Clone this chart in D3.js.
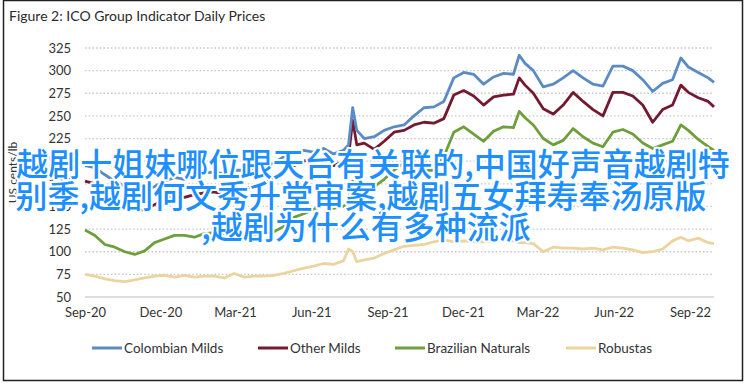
<!DOCTYPE html>
<html>
<head>
<meta charset="utf-8">
<script src="https://cdn.jsdelivr.net/npm/d3@7"></script>
<style>
  body { margin: 0; background: #ffffff; }
  svg { display: block; }
</style>
</head>
<body>
<script>
const width = 748;
const height = 387;
const plot = {left: 85, right: 714, top: 48, bottom: 297};

// dates shared by all series
const dates = [
  "2020-09-01","2020-09-13","2020-09-25","2020-10-07","2020-10-19","2020-10-31",
  "2020-11-12","2020-11-24","2020-12-06","2020-12-18","2020-12-30","2021-01-11",
  "2021-01-23","2021-02-04","2021-02-16","2021-02-28","2021-03-12","2021-03-24",
  "2021-04-05","2021-04-17","2021-04-29","2021-05-11","2021-05-23","2021-06-04",
  "2021-06-16","2021-06-28","2021-07-10","2021-07-16","2021-07-21","2021-07-26",
  "2021-08-04","2021-08-16","2021-08-28","2021-09-09","2021-09-21","2021-10-03",
  "2021-10-15","2021-10-27","2021-11-08","2021-11-20","2021-12-02","2021-12-14",
  "2021-12-26","2022-01-07","2022-01-19","2022-01-31","2022-02-07","2022-02-14",
  "2022-02-24","2022-03-08","2022-03-20","2022-04-01","2022-04-13","2022-04-25",
  "2022-05-07","2022-05-19","2022-05-31","2022-06-12","2022-06-24","2022-07-06",
  "2022-07-18","2022-07-30","2022-08-11","2022-08-21","2022-08-30","2022-09-11",
  "2022-09-23","2022-09-30"
];

const colombianMilds = [
  195,193,185,178,172,168, 167,172,178,182,180,184,
  187,188,186,190,190,192, 194,198,205,208,212,210,
  214,208,212,218,259,234, 225,227,234,238,240,250,
  259,260,266,292,298,296, 285,293,297,296,317,308,
  300,282,285,292,300,292, 285,283,305,305,300,290,
  277,286,290,314,304,298, 292,287
];
const otherMilds = [
  178,175,165,158,150,147, 146,152,158,162,160,163,
  165,166,163,168,170,172, 175,182,190,195,200,205,
  200,195,200,205,245,218, 220,213,222,232,234,240,
  243,242,247,273,278,272, 262,271,273,274,292,284,
  275,258,252,262,276,266, 257,250,276,276,272,262,
  243,257,262,284,276,270, 266,260
];
const brazilianNaturals = [
  124,118,108,105,100,97, 101,110,114,118,118,116,
  120,121,120,123,121,118, 120,122,128,138,142,147,
  152,148,150,155,178,170, 165,172,180,190,198,196,
  190,190,205,232,238,230, 222,233,238,237,255,248,
  240,225,218,223,236,227, 220,216,232,235,230,220,
  214,218,222,240,234,224, 216,212
];
const robustas = [
  75,73,70,68,67,69, 71,73,74,72,74,72,
  73,73,71,76,72,73, 73,74,76,79,82,84,
  87,86,90,103,100,89, 91,93,98,102,106,107,
  108,111,113,111,112,111, 111,112,113,112,110,110,
  109,100,105,104,104,103, 104,102,105,104,102,99,
  100,103,112,116,112,115, 110,109
];

const seriesNames = ["Colombian Milds", "Other Milds", "Brazilian Naturals", "Robustas"];
const seriesValues = [colombianMilds, otherMilds, brazilianNaturals, robustas];
const colors = ["#5b8bc5", "#741a30", "#6f9f3c", "#ebd49f"];
const yTicks = [50, 75, 100, 125, 150, 175, 200, 225, 250, 275, 300, 325];
const xTicks = ["2020-09-01","2020-12-01","2021-03-01","2021-06-01","2021-09-01",
                "2021-12-01","2022-03-01","2022-06-01","2022-09-01"];

const overlayLines = [
  "越剧十姐妹哪位跟天台有关联的,中国好声音越剧特",
  "别季,越剧何文秀升堂审案,越剧五女拜寿奉汤原版",
  ",越剧为什么有多种流派"
];
const overlayCenters = [373, 361, 366];

const parse = d3.timeParse("%Y-%m-%d");

const svg = d3.select("body").append("svg")
    .attr("width", width)
    .attr("height", height);

// frame
svg.append("rect")
    .attr("x", 3.5).attr("y", 0.5)
    .attr("width", 739).attr("height", 380)
    .attr("fill", "#ffffff")
    .attr("stroke", "#222")
    .attr("stroke-width", 1.5);

svg.append("text")
    .attr("x", 9).attr("y", 21)
    .attr("font-family", "Lato, sans-serif")
    .attr("font-size", 14)
    .attr("fill", "#2b2b2b")
    .text("Figure 2: ICO Group Indicator Daily Prices");

const x = d3.scaleTime()
    .domain([parse(dates[0]), parse(dates[dates.length - 1])])
    .range([plot.left, plot.right]);

const y = d3.scaleLinear()
    .domain([50, 325])
    .range([plot.bottom, plot.top]);

// gridlines
svg.append("g")
  .selectAll("line")
  .data(yTicks)
  .join("line")
    .attr("x1", plot.left).attr("x2", plot.right)
    .attr("y1", d => y(d)).attr("y2", d => y(d))
    .attr("stroke", d => d === 50 ? "#d4d4d4" : "#c6c6c6")
    .attr("stroke-width", d => d === 50 ? 1.5 : 1.3)
    .attr("stroke-dasharray", d => d === 50 ? null : "1.5,2.2");

// y axis labels
const yAxis = svg.append("g")
    .attr("transform", "translate(" + (plot.left - 14) + ",0)")
    .call(d3.axisLeft(y).tickValues(yTicks).tickSize(0).tickPadding(0));
yAxis.select(".domain").remove();
yAxis.selectAll("text")
    .attr("font-family", "Lato, sans-serif")
    .attr("font-size", 13)
    .attr("fill", "#333");

// x axis labels
const xAxis = svg.append("g")
    .attr("transform", "translate(0," + (plot.bottom + 11) + ")")
    .call(d3.axisBottom(x).tickValues(xTicks.map(parse))
      .tickFormat(d3.timeFormat("%b-%y")).tickSize(0).tickPadding(0));
xAxis.select(".domain").remove();
xAxis.selectAll("text")
    .attr("font-family", "Lato, sans-serif")
    .attr("font-size", 13)
    .attr("fill", "#333");

svg.append("text")
    .attr("transform", "translate(17," + ((plot.top + plot.bottom) / 2) + ") rotate(-90)")
    .attr("text-anchor", "middle")
    .attr("font-family", "Lato, sans-serif")
    .attr("font-size", 12)
    .attr("fill", "#333")
    .text("US cents/lb");

// lines, robustas first so the others sit on top
const line = d3.line()
    .x((d, i) => x(parse(dates[i])))
    .y(d => y(d));

const order = [3, 2, 1, 0];
svg.append("g")
  .selectAll("path")
  .data(order)
  .join("path")
    .attr("d", k => line(seriesValues[k]))
    .attr("fill", "none")
    .attr("stroke", k => colors[k])
    .attr("stroke-width", 2.8)
    .attr("stroke-linejoin", "round");

// legend
const legendX = [92, 258, 395, 566];
const legend = svg.append("g")
  .selectAll("g")
  .data(seriesNames)
  .join("g")
    .attr("transform", (d, i) => "translate(" + legendX[i] + ",348)");
legend.append("line")
    .attr("x1", 0).attr("x2", 30)
    .attr("stroke", (d, i) => colors[i])
    .attr("stroke-width", 3);
legend.append("text")
    .attr("x", 32).attr("y", 4.5)
    .attr("font-family", "Lato, sans-serif")
    .attr("font-size", 13.5)
    .attr("fill", "#333")
    .text(d => d);

// overlay text
svg.append("g")
  .selectAll("text")
  .data(overlayLines)
  .join("text")
    .attr("x", (d, i) => overlayCenters[i])
    .attr("y", (d, i) => 176 + i * 31.5)
    .attr("text-anchor", "middle")
    .attr("font-family", "'Noto Sans CJK SC', sans-serif")
    .attr("font-size", 32)
    .attr("font-weight", 500)
    .attr("fill", "#1e8fff")
    .attr("stroke", "#ffffff")
    .attr("stroke-width", 4)
    .attr("stroke-linejoin", "round")
    .attr("paint-order", "stroke")
    .text(d => d);
</script>
</body>
</html>
